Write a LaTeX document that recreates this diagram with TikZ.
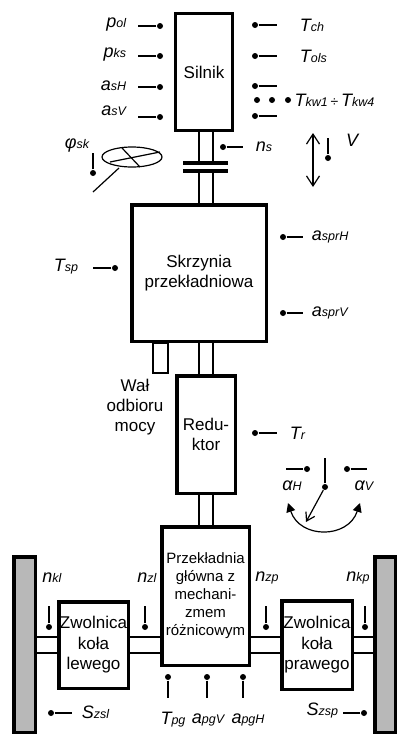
\documentclass[tikz,border=0pt]{standalone}
\usepackage{fontspec}
\setmainfont{Liberation Sans}
\usetikzlibrary{arrows.meta}
\newcommand{\zm}[2]{{\fontsize{18}{18}\selectfont\itshape #1}{\fontsize{12.5}{12.5}\selectfont\itshape #2}}

\begin{document}
\begin{tikzpicture}[x=1pt, y=-1pt, line width=1.2pt,
    blok/.style={draw, line width=3.5pt, align=center, inner sep=0pt, font=\fontsize{17}{20.5}\selectfont},
    kropka/.style={circle, fill, inner sep=0pt, minimum size=6pt},
    kolo/.style={draw, line width=3.5pt, fill=black!28, inner sep=0pt}]
    \useasboundingbox (0,0) rectangle (399,736);

    % Bloki glowne
    \node[blok, minimum width=57pt, minimum height=117pt] (silnik) at (204,72) {Silnik};
    \node[blok, minimum width=134.5pt, minimum height=136.5pt] (skrzynia) at (199,273) {Skrzynia\\przekładniowa};
    \node[blok, minimum width=58.5pt, minimum height=117.5pt] (reduktor) at (206,434.5) {Redu-\\ktor};
    \node[blok, minimum width=87.5pt, minimum height=138.5pt, font=\fontsize{15}{18}\selectfont] (glowna) at (205.5,596) {\raisebox{5pt}{\begin{tabular}{@{}c@{}}Przekładnia\\główna z\\mechani-\\zmem\\różnicowym\end{tabular}}};
    \node[blok, minimum width=69.5pt, minimum height=86.5pt] (zwl) at (93.5,645) {Zwolnica\\koła\\lewego};
    \node[blok, minimum width=70.5pt, minimum height=88.5pt] (zwp) at (317,645) {Zwolnica\\koła\\prawego};
    \node[kolo, minimum width=21.5pt, minimum height=175.5pt] (kolol) at (24.5,644.5) {};
    \node[kolo, minimum width=20.5pt, minimum height=175.5pt] (kolop) at (385,644.5) {};
    \node[draw, inner sep=0pt, minimum width=15pt, minimum height=30pt] (wom) at (160.5,358) {};
    \node[align=center, font=\fontsize{17}{20}\selectfont] (wom-t) at (135,407) {Wał\\odbioru\\mocy};

    % Walki
    \coordinate (wL) at (199,0);
    \coordinate (wR) at (213,0);
    \coordinate (sp1) at (0,163);
    \coordinate (sp2) at (0,171);
    \draw (silnik.south -| wL) -- (sp1 -| wL);
    \draw (silnik.south -| wR) -- (sp1 -| wR);
    \draw (sp2 -| wL) -- (skrzynia.north -| wL);
    \draw (sp2 -| wR) -- (skrzynia.north -| wR);
    \draw[line width=4pt] (183,163) -- (228,163);
    \draw[line width=4pt] (183,171) -- (228,171);
    \draw (skrzynia.south -| wL) -- (reduktor.north -| wL);
    \draw (skrzynia.south -| wR) -- (reduktor.north -| wR);
    \draw (reduktor.south -| wL) -- (glowna.north -| wL);
    \draw (reduktor.south -| wR) -- (glowna.north -| wR);

    % Polosie
    \coordinate (oG) at (0,637);
    \coordinate (oD) at (0,653);
    \draw (kolol.east |- oG) -- (zwl.west |- oG);
    \draw (kolol.east |- oD) -- (zwl.west |- oD);
    \draw (zwl.east |- oG) -- (glowna.west |- oG);
    \draw (zwl.east |- oD) -- (glowna.west |- oD);
    \draw (glowna.east |- oG) -- (zwp.west |- oG);
    \draw (glowna.east |- oD) -- (zwp.west |- oD);
    \draw (zwp.east |- oG) -- (kolop.west |- oG);
    \draw (zwp.east |- oD) -- (kolop.west |- oD);

    % Czujniki silnika - lewa strona
    \node[kropka] (pol) at (160,26) {};
    \coordinate (pol-k) at (138,26);
    \draw (pol) -- (pol-k);
    \node[anchor=east] (pol-t) at (130,25) {\zm{p}{ol}};
    \node[kropka] (pks) at (160,56) {};
    \coordinate (pks-k) at (138,56);
    \draw (pks) -- (pks-k);
    \node[anchor=east] (pks-t) at (130,55) {\zm{p}{ks}};
    \node[kropka] (ash) at (160,87) {};
    \coordinate (ash-k) at (138,87);
    \draw (ash) -- (ash-k);
    \node[anchor=east] (ash-t) at (130,86) {\zm{a}{sH}};
    \node[kropka] (asv) at (160,117) {};
    \coordinate (asv-k) at (138,117);
    \draw (asv) -- (asv-k);
    \node[anchor=east] (asv-t) at (130,111) {\zm{a}{sV}};

    % Czujniki silnika - prawa strona
    \node[kropka] (tch) at (255,25) {};
    \coordinate (tch-k) at (277,25);
    \draw (tch) -- (tch-k);
    \node[anchor=west] (tch-t) at (296,25) {\zm{T}{ch}};
    \node[kropka] (tols) at (255,56) {};
    \coordinate (tols-k) at (277,56);
    \draw (tols) -- (tols-k);
    \node[anchor=west] (tols-t) at (296,56) {\zm{T}{ols}};
    \node[kropka] (tkwa) at (255,86) {};
    \coordinate (tkwa-k) at (277,86);
    \draw (tkwa) -- (tkwa-k);
    \node[kropka] (tkwb) at (255,116) {};
    \coordinate (tkwb-k) at (277,116);
    \draw (tkwb) -- (tkwb-k);
    \node[kropka] (k1) at (257,100) {};
    \node[kropka] (k2) at (272,100) {};
    \node[kropka] (k3) at (288,100) {};
    \node[anchor=west, inner sep=1pt] (tkw-t) at (293,100) {\zm{T}{kw1} {\fontsize{14}{14}\selectfont÷} \zm{T}{kw4}};

    % Predkosc obrotowa i predkosc jazdy
    \node[kropka] (ns) at (223,147) {};
    \coordinate (ns-k) at (243,147);
    \draw (ns) -- (ns-k);
    \node[anchor=west] (ns-t) at (252,147) {\zm{n}{s}};
    \coordinate (v1) at (313,133);
    \coordinate (v2) at (313,187);
    \draw[{Straight Barb[length=10pt,width=13pt]}-{Straight Barb[length=10pt,width=13pt]}] (v1) -- (v2);
    \node[kropka] (vs) at (328,158) {};
    \coordinate (vs-k) at (328,138);
    \draw (vs) -- (vs-k);
    \node (v-t) at (352,140) {\zm{V}{}};

    % Kierownica
    \draw (132,157) ellipse [x radius=30, y radius=10];
    \draw (110,162) -- (160,152);
    \draw (122,148) -- (140,167);
    \draw (119,168) -- (93,192);
    \node[kropka] (fsk) at (93,173) {};
    \coordinate (fsk-k) at (93,153);
    \draw (fsk) -- (fsk-k);
    \node (fsk-t) at (77,146) {\zm{φ}{sk}};

    % Czujniki skrzyni
    \node[kropka] (tsp) at (115,268) {};
    \coordinate (tsp-k) at (93,268);
    \draw (tsp) -- (tsp-k);
    \node[anchor=east] (tsp-t) at (82,267) {\zm{T}{sp}};
    \node[kropka] (asprh) at (283,237) {};
    \coordinate (asprh-k) at (303,237);
    \draw (asprh) -- (asprh-k);
    \node[anchor=west] (asprh-t) at (308,237) {\zm{a}{sprH}};
    \node[kropka] (asprv) at (283,313) {};
    \coordinate (asprv-k) at (303,313);
    \draw (asprv) -- (asprv-k);
    \node[anchor=west] (asprv-t) at (308,313) {\zm{a}{sprV}};

    % Czujnik reduktora
    \node[kropka] (tr) at (255,433) {};
    \coordinate (tr-k) at (277,433);
    \draw (tr) -- (tr-k);
    \node[anchor=west] (tr-t) at (286,433) {\zm{T}{r}};

    % Pochylenie
    \node[kropka] (alh) at (307,469) {};
    \coordinate (alh-k) at (286,469);
    \draw (alh) -- (alh-k);
    \node (alh-t) at (292,486) {\zm{α}{H}};
    \node[kropka] (alv) at (347,469) {};
    \coordinate (alv-k) at (367,469);
    \draw (alv) -- (alv-k);
    \node (alv-t) at (364,486) {\zm{α}{V}};
    \node[kropka] (os) at (325,487) {};
    \coordinate (os-g) at (325,458);
    \coordinate (os-d) at (306,522);
    \draw (os) -- (os-g);
    \draw[-{Straight Barb[length=8pt,width=10pt]}] (os) -- (os-d);
    \draw[{Triangle[length=9pt,width=9pt]}-{Triangle[length=9pt,width=9pt]}] (288,503) .. controls (300,539) and (348,539) .. (360,503);

    % Czujniki ukladu napedowego
    \node[kropka] (nkl) at (49,627) {};
    \coordinate (nkl-k) at (49,606);
    \draw (nkl) -- (nkl-k);
    \node (nkl-t) at (52,578) {\zm{n}{kl}};
    \node[kropka] (nzl) at (145,627) {};
    \coordinate (nzl-k) at (145,606);
    \draw (nzl) -- (nzl-k);
    \node (nzl-t) at (147,578) {\zm{n}{zl}};
    \node[kropka] (nzp) at (266,627) {};
    \coordinate (nzp-k) at (266,606);
    \draw (nzp) -- (nzp-k);
    \node (nzp-t) at (267,578) {\zm{n}{zp}};
    \node[kropka] (nkp) at (365,627) {};
    \coordinate (nkp-k) at (365,606);
    \draw (nkp) -- (nkp-k);
    \node (nkp-t) at (358,578) {\zm{n}{kp}};
    \node[kropka] (tpg) at (168,677) {};
    \coordinate (tpg-k) at (168,698);
    \draw (tpg) -- (tpg-k);
    \node (tpg-t) at (173,720) {\zm{T}{pg}};
    \node[kropka] (apgv) at (207,677) {};
    \coordinate (apgv-k) at (207,698);
    \draw (apgv) -- (apgv-k);
    \node (apgv-t) at (208,720) {\zm{a}{pgV}};
    \node[kropka] (apgh) at (243,677) {};
    \coordinate (apgh-k) at (243,698);
    \draw (apgh) -- (apgh-k);
    \node (apgh-t) at (248,720) {\zm{a}{pgH}};
    \node[kropka] (szsl) at (51,713) {};
    \coordinate (szsl-k) at (72,713);
    \draw (szsl) -- (szsl-k);
    \node[anchor=west] (szsl-t) at (78,712) {\zm{S}{zsl}};
    \node[kropka] (szsp) at (364,713) {};
    \coordinate (szsp-k) at (343,713);
    \draw (szsp) -- (szsp-k);
    \node[anchor=east] (szsp-t) at (342,711) {\zm{S}{zsp}};
\end{tikzpicture}
\end{document}
